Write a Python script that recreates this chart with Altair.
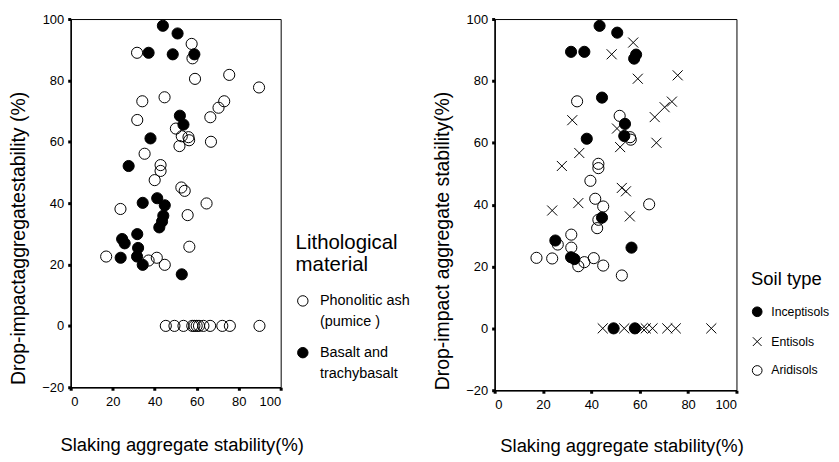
import altair as alt
import pandas as pd

# ---------------- Left panel: lithological material ----------------
phon_x = [31.6, 57.6, 58.0, 59.2, 75.5, 89.7, 44.7, 34.1, 73.1, 70.4, 66.5, 31.7,
          50.1, 52.9, 56.1, 56.4, 51.8, 66.8, 35.2, 42.8, 42.8, 40.0, 52.7, 54.3,
          64.7, 23.7, 55.7, 56.5, 16.9, 37.1, 41.0, 44.8,
          45.3, 49.4, 53.7, 57.9, 58.9, 60.0, 61.1, 63.2, 66.4, 72.2, 75.8, 89.9]
phon_y = [89.0, 91.9, 87.2, 80.5, 81.8, 77.7, 74.5, 73.2, 73.2, 71.1, 68.0, 67.1,
          64.3, 61.8, 61.5, 60.5, 58.6, 60.0, 56.1, 52.4, 50.5, 47.5, 45.1, 44.0,
          39.9, 38.1, 36.1, 25.8, 22.6, 21.3, 22.2, 19.9,
          0, 0, 0, 0, 0, 0, 0, 0, 0, 0, 0, 0]
bas_x = [43.9, 50.9, 37.1, 48.6, 58.9, 52.0, 53.7, 38.0, 27.6, 34.3, 41.2, 44.8,
         44.1, 43.5, 42.2, 31.7, 24.5, 25.7, 32.1, 23.8, 31.6, 34.3, 52.9]
bas_y = [97.8, 95.3, 89.0, 88.5, 88.5, 68.5, 65.6, 61.1, 52.1, 40.1, 41.6, 39.3,
         35.9, 34.0, 32.1, 29.9, 28.3, 26.9, 25.4, 22.2, 22.6, 19.9, 16.8]
materials = ["Phonolitic ash|(pumice )", "Basalt and|trachybasalt"]

# ---------------- Right panel: soil type ----------------
inc_x = [43.4, 50.7, 31.6, 37.1, 58.5, 57.7, 44.4, 53.9, 53.6, 38.1, 44.4, 25.1,
         56.6, 31.6, 33.0, 49.2, 58.0]
inc_y = [97.8, 95.6, 89.4, 89.4, 88.5, 87.2, 74.6, 66.1, 62.2, 61.3, 35.8, 28.4,
         26.1, 23.0, 22.4, 0, 0]
ent_x = [57.3, 48.4, 59.2, 75.7, 73.3, 70.3, 66.2, 32.1, 50.6, 51.9, 66.9, 35.0,
         27.8, 52.6, 54.3, 34.6, 23.8, 55.9,
         44.7, 53.6, 61.1, 62.5, 65.3, 71.4, 74.9, 89.6]
ent_y = [92.4, 88.6, 80.7, 81.8, 73.3, 71.5, 68.3, 67.3, 64.6, 58.6, 60.0, 56.7,
         52.5, 45.4, 44.3, 40.5, 38.1, 36.2,
         0, 0, 0, 0, 0, 0, 0, 0]
ari_x = [34.1, 51.7, 56.0, 56.3, 42.9, 42.9, 39.6, 41.6, 44.9, 42.9, 42.4, 63.9,
         31.7, 26.1, 31.7, 17.3, 23.8, 34.6, 37.1, 41.0, 44.9, 52.6]
ari_y = [73.4, 68.7, 61.8, 61.0, 53.2, 51.8, 47.7, 41.9, 39.4, 35.1, 32.4, 40.1,
         30.3, 27.1, 26.1, 22.8, 22.6, 20.1, 21.4, 22.7, 20.3, 17.1]
soils = ["Inceptisols", "Entisols", "Aridisols"]

x_ticks = [0, 20, 40, 60, 80, 100]
y_ticks = [-20, 0, 20, 40, 60, 80, 100]

FONT = "Liberation Sans"

left_df = pd.DataFrame({
    "slaking": phon_x + bas_x,
    "drop": phon_y + bas_y,
    "material": [materials[0]] * len(phon_x) + [materials[1]] * len(bas_x),
})
right_df = pd.DataFrame({
    "slaking": ari_x + ent_x + inc_x,
    "drop": ari_y + ent_y + inc_y,
    "soil": [soils[2]] * len(ari_x) + [soils[1]] * len(ent_x) + [soils[0]] * len(inc_x),
})

axis_style = dict(domainColor="black", domainWidth=1.5, tickColor="black",
                  tickSize=3, tickWidth=3, labelFont=FONT, labelFontSize=13,
                  labelColor="black", titleFont=FONT,
                  titleFontWeight="normal", titleColor="black", grid=False)


def x_axis(pad, w):
    return alt.Axis(values=x_ticks, title="Slaking aggregate stability(%)",
                    labelPadding=5, titlePadding=pad, titleFontSize=18.5,
                    titleX=w / 2 + 6, **axis_style)


def y_axis(title, ty):
    return alt.Axis(values=y_ticks, title=title, labelPadding=4,
                    titlePadding=13, titleFontSize=19.5, titleY=ty,
                    **axis_style)


legend_style = dict(orient="none", labelFont=FONT, labelColor="black",
                    titleFont=FONT, titleFontWeight="normal",
                    titleColor="black", symbolStrokeColor="black",
                    symbolStrokeWidth=1, symbolOpacity=1, padding=0,
                    titleLimit=300, labelLimit=300)

LW, LH = 211, 370
left = alt.Chart(left_df).mark_point(
    filled=True, size=125, stroke="black", strokeWidth=1, opacity=1
).encode(
    x=alt.X("slaking:Q", scale=alt.Scale(domain=[0, 100], nice=False), axis=x_axis(28, LW)),
    y=alt.Y("drop:Q", scale=alt.Scale(domain=[-20, 100], nice=False),
            axis=y_axis("Drop-impactaggregatestability (%)", 220)),
    color=alt.Color("material:N",
                    scale=alt.Scale(domain=materials, range=["transparent", "black"]),
                    legend=alt.Legend(title=["Lithological", "\u00a0material"],
                                      legendX=226, legendY=215.5, titleFontSize=20.5,
                                      titleLineHeight=21.5, titlePadding=18.5,
                                      symbolSize=110, symbolType="circle",
                                      rowPadding=16, labelOffset=10,
                                      labelFontSize=14.5,
                                      labelExpr="split(datum.label, '|')",
                                      **legend_style)),
).properties(width=LW, height=LH)

x_path = "M-0.9,-0.9L0.9,0.9M-0.9,0.9L0.9,-0.9"
right_legend = alt.Legend(title="Soil type", legendX=257.7, legendY=252,
                          titleFontSize=18.5, titlePadding=17.5, symbolSize=95,
                          rowPadding=15, labelOffset=8, labelFontSize=12.3,
                          **legend_style)
RW, RH = 243, 373
right = alt.Chart(right_df).mark_point(
    filled=True, size=125, stroke="black", strokeWidth=1, opacity=1
).encode(
    x=alt.X("slaking:Q", scale=alt.Scale(domain=[0, 100], nice=False), axis=x_axis(25.5, RW)),
    y=alt.Y("drop:Q", scale=alt.Scale(domain=[-20, 100], nice=False),
            axis=y_axis("Drop-impact aggregate stability(%)", 222.5)),
    color=alt.Color("soil:N",
                    scale=alt.Scale(domain=soils, range=["black", "transparent", "transparent"]),
                    legend=right_legend),
    stroke=alt.Stroke("soil:N",
                      scale=alt.Scale(domain=soils, range=["black", "black", "black"]),
                      legend=right_legend),
    shape=alt.Shape("soil:N",
                    scale=alt.Scale(domain=soils, range=["circle", x_path, "circle"]),
                    legend=right_legend),
).properties(width=RW, height=RH)

chart = alt.hconcat(left, right, spacing=21).resolve_scale(
    x="independent", y="independent", color="independent", shape="independent",
    stroke="independent"
).resolve_legend(color="independent", shape="independent", stroke="independent").properties(
    padding={"left": 0, "top": 3, "right": 0, "bottom": 0}
).configure(
    background="white", style={"guide-label": {"lineHeight": 21}}
).configure_view(stroke="black", strokeWidth=1)

chart.save("out.html", embed_options={"renderer": "svg", "actions": False})
